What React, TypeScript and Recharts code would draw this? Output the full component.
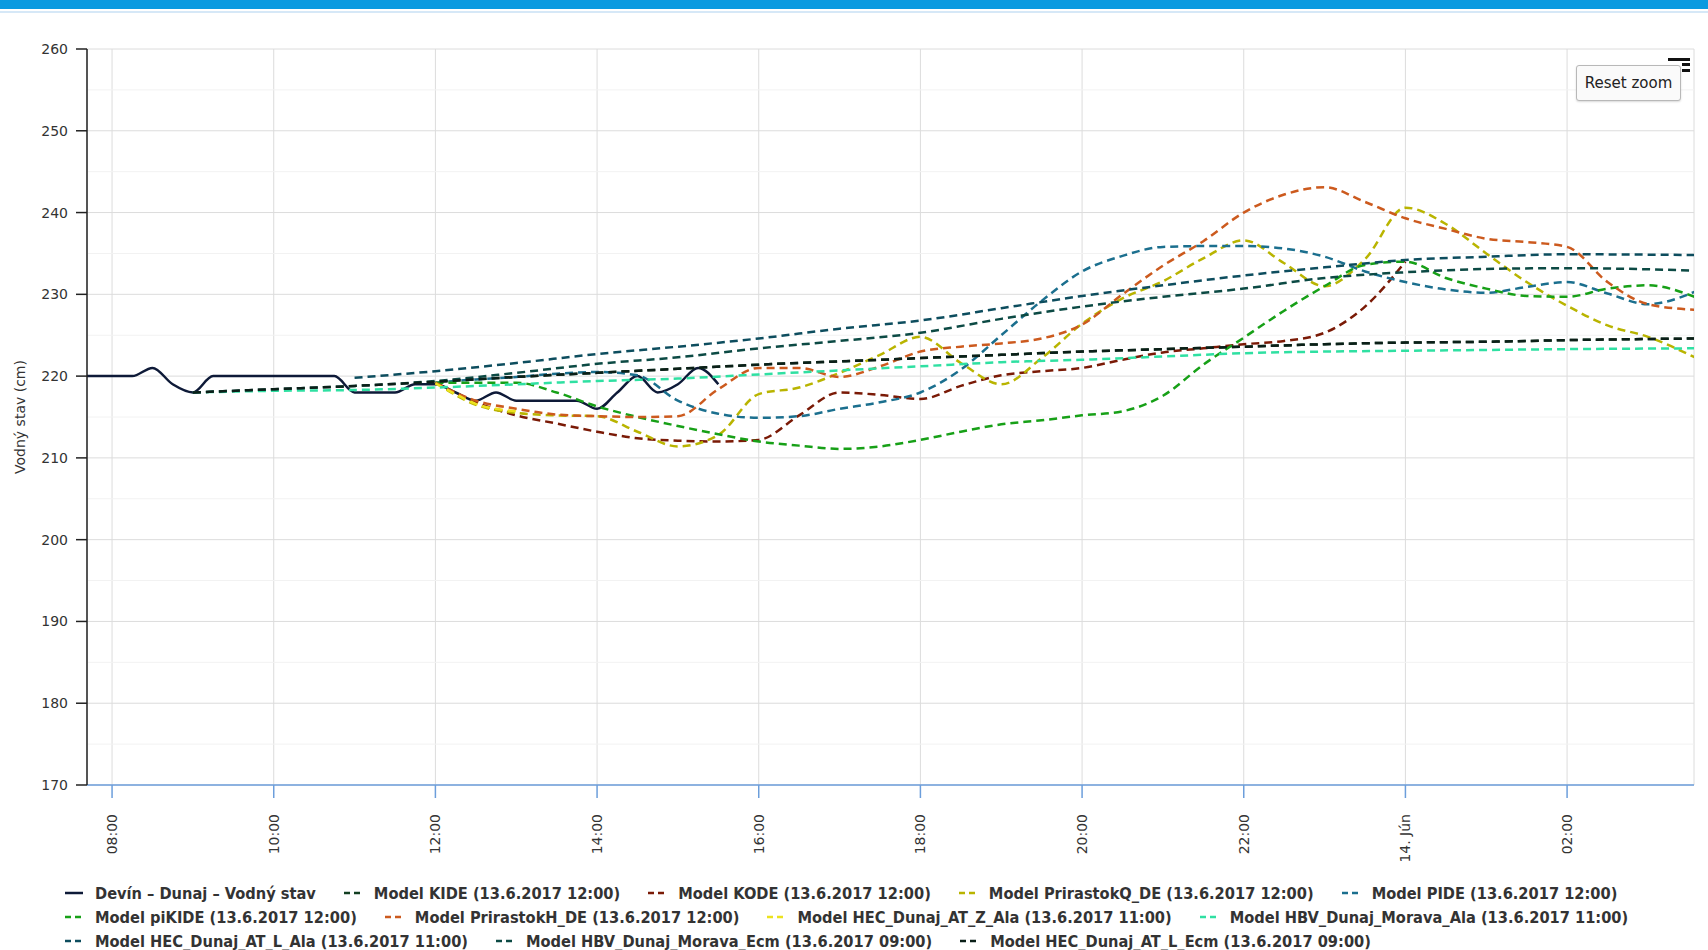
import React from 'react';
import { LineChart, Line, XAxis, YAxis, CartesianGrid, ReferenceLine } from 'recharts';

type Pt = [number, number]; // [hours since 13.6. 00:00, cm]

const xTicks = [8, 10, 12, 14, 16, 18, 20, 22, 24, 26];
const xTickLabels = ['08:00', '10:00', '12:00', '14:00', '16:00', '18:00', '20:00', '22:00', '14. Jún', '02:00'];
const yTicks = [170, 180, 190, 200, 210, 220, 230, 240, 250, 260];
const yMinor = [175, 185, 195, 205, 215, 225, 235, 245, 255];

const devin: Pt[] = [
  [7.5, 220], [7.75, 220], [8, 220], [8.25, 220], [8.5, 221], [8.75, 219], [9, 218], [9.25, 220],
  [9.5, 220], [9.75, 220], [10, 220], [10.25, 220], [10.5, 220], [10.75, 220], [11, 218], [11.25, 218],
  [11.5, 218], [11.75, 219], [12, 219], [12.25, 218], [12.5, 217], [12.75, 218], [13, 217], [13.25, 217],
  [13.5, 217], [13.75, 217], [14, 216], [14.25, 218], [14.5, 220], [14.75, 218], [15, 219], [15.25, 221], [15.5, 219],
];
const kide: Pt[] = [
  [12, 219.3], [13, 219.9], [14, 220.4], [15, 220.9], [16, 221.4], [17, 221.8], [18, 222.2], [19, 222.6],
  [20, 223.0], [21, 223.3], [22, 223.6], [23, 223.9], [24, 224.1], [25, 224.2], [26, 224.4], [27.6, 224.6],
];
const kode: Pt[] = [
  [12, 219.2], [12.5, 216.8], [13, 215.2], [13.5, 214.2], [14, 213.2], [14.5, 212.4], [15, 212.1], [15.5, 212.0],
  [16, 212.2], [16.5, 215.2], [17, 218.0], [17.5, 217.7], [18, 217.2], [18.5, 218.8], [19, 220.1], [19.5, 220.6],
  [20, 221.0], [20.5, 222.0], [21, 222.9], [21.5, 223.4], [22, 223.9], [22.5, 224.3], [23, 225.3], [23.5, 228.5], [24, 234.0],
];
const prirastokQ: Pt[] = [
  [12, 219.2], [12.5, 216.5], [13, 215.5], [13.5, 215.2], [14, 215.1], [14.5, 213.2], [15, 211.4], [15.5, 212.8],
  [16, 217.8], [16.5, 218.6], [17, 220.4], [17.5, 222.6], [18, 224.8], [18.5, 221.6], [19, 219.0], [19.5, 222.2],
  [20, 226.4], [20.5, 229.5], [21, 231.6], [21.5, 234.4], [22, 236.6], [22.5, 233.8], [23, 231.0], [23.5, 234.3],
  [24, 240.6], [24.5, 238.6], [25, 235.0], [25.5, 231.5], [26, 228.6], [26.5, 226.2], [27, 224.8], [27.6, 222.2],
];
const pide: Pt[] = [
  [12, 219.2], [12.5, 219.6], [13, 219.9], [13.5, 220.3], [14, 220.5], [14.5, 220.1], [15, 217.0], [15.5, 215.4],
  [16, 214.9], [16.5, 215.1], [17, 216.0], [17.5, 216.8], [18, 218.0], [18.5, 220.8], [19, 225.0], [19.5, 229.2],
  [20, 232.8], [20.5, 234.7], [21, 235.8], [21.5, 235.9], [22, 235.9], [22.5, 235.6], [23, 234.6], [23.5, 232.8],
  [24, 231.5], [24.5, 230.6], [25, 230.2], [25.5, 230.9], [26, 231.5], [26.5, 230.1], [27, 228.8], [27.6, 230.4],
];
const piKide: Pt[] = [
  [12, 219.2], [12.5, 219.2], [13, 219.2], [13.5, 218.0], [14, 216.3], [14.5, 215.0], [15, 213.9], [15.5, 212.9],
  [16, 212.0], [16.5, 211.5], [17, 211.1], [17.5, 211.4], [18, 212.2], [18.5, 213.2], [19, 214.1], [19.5, 214.6],
  [20, 215.2], [20.5, 215.7], [21, 217.6], [21.5, 221.4], [22, 224.7], [22.5, 228.0], [23, 231.0], [23.5, 233.6],
  [24, 234.0], [24.5, 232.0], [25, 230.7], [25.5, 229.8], [26, 229.7], [26.5, 230.7], [27, 231.1], [27.6, 229.6],
];
const prirastokH: Pt[] = [
  [12, 219.2], [12.5, 217.0], [13, 216.0], [13.5, 215.3], [14, 215.1], [14.5, 215.0], [15, 215.1], [15.5, 218.4],
  [16, 221.0], [16.5, 221.0], [17, 219.9], [17.5, 221.2], [18, 223.0], [18.5, 223.6], [19, 224.0], [19.5, 224.6],
  [20, 226.3], [20.5, 230.0], [21, 233.5], [21.5, 236.5], [22, 240.0], [22.5, 242.2], [23, 243.1], [23.5, 241.3],
  [24, 239.3], [24.5, 238.0], [25, 236.8], [25.5, 236.4], [26, 235.8], [26.5, 231.5], [27, 228.8], [27.6, 228.1],
];
const hecZAla: Pt[] = [[12, 219.1], [12.25, 217.8], [12.5, 216.6], [12.75, 216.0], [13, 215.7]];
const hbvAla: Pt[] = [
  [9, 218], [10, 218.2], [11, 218.3], [12, 218.6], [13, 219.0], [14, 219.4], [15, 219.7], [16, 220.2],
  [17, 220.7], [18, 221.2], [19, 221.7], [20, 222.0], [21, 222.4], [22, 222.8], [23, 223.0], [24, 223.1],
  [25, 223.2], [26, 223.3], [27.6, 223.4],
];
const hecLAla: Pt[] = [
  [11, 219.8], [12, 220.6], [13, 221.6], [14, 222.7], [15, 223.6], [16, 224.6], [17, 225.8], [18, 226.8],
  [19, 228.3], [20, 229.8], [21, 231.1], [22, 232.3], [23, 233.3], [24, 234.2], [25, 234.6], [26, 234.9], [27.6, 234.8],
];
const hbvEcm: Pt[] = [
  [9, 218], [10, 218.4], [11, 218.8], [12, 219.4], [13, 220.4], [14, 221.5], [15, 222.3], [16, 223.4],
  [17, 224.3], [18, 225.3], [19, 227.0], [20, 228.5], [21, 229.7], [22, 230.7], [23, 232.0], [24, 232.7],
  [25, 233.1], [26, 233.2], [27.6, 232.9],
];
const hecLEcm: Pt[] = [
  [9, 218], [10, 218.4], [11, 218.8], [12, 219.3], [13, 219.9], [14, 220.4], [15, 220.9], [16, 221.4],
  [17, 221.8], [18, 222.2], [19, 222.6], [20, 223.0], [21, 223.3], [22, 223.6], [23, 223.9], [24, 224.1],
  [25, 224.2], [26, 224.4], [27.6, 224.6],
];

const seriesNames = [
  'Devín – Dunaj – Vodný stav',
  'Model KIDE (13.6.2017 12:00)',
  'Model KODE (13.6.2017 12:00)',
  'Model PrirastokQ_DE (13.6.2017 12:00)',
  'Model PIDE (13.6.2017 12:00)',
  'Model piKIDE (13.6.2017 12:00)',
  'Model PrirastokH_DE (13.6.2017 12:00)',
  'Model HEC_Dunaj_AT_Z_Ala (13.6.2017 11:00)',
  'Model HBV_Dunaj_Morava_Ala (13.6.2017 11:00)',
  'Model HEC_Dunaj_AT_L_Ala (13.6.2017 11:00)',
  'Model HBV_Dunaj_Morava_Ecm (13.6.2017 09:00)',
  'Model HEC_Dunaj_AT_L_Ecm (13.6.2017 09:00)',
];
const seriesData = [devin, kide, kode, prirastokQ, pide, piKide, prirastokH, hecZAla, hbvAla, hecLAla, hbvEcm, hecLEcm];
const legendRows = [5, 4, 3];

const colors = [
  '#0e1a38', '#123f22', '#7a1a06', '#b9b400', '#1b6f8e', '#17a017',
  '#cc5a1e', '#ece21e', '#2fe0a2', '#0d4d5e', '#0c4a44', '#0b1f18',
];
// KIDE runs under HEC_L_Ecm from 12:00; shift its dashes so the two patterns line up
const dashOffsets = [0, 8.8, 0, 0, 0, 0, 0, 0, 0, 0, 0, 0];

const font = "'DejaVu Sans', sans-serif";
const legendFont = "'DejaVu Sans Condensed', 'Liberation Sans Narrow', 'DejaVu Sans', sans-serif";

const XTick = (props: any) => {
  const { x, y, payload } = props;
  const label = xTickLabels[xTicks.indexOf(payload.value)];
  const ty = y + 14;
  return (
    <text x={x} y={ty} transform={`rotate(-90 ${x} ${ty})`} textAnchor="end" dominantBaseline="central"
      fontSize={14} fontFamily={font} fill="#333">
      {label}
    </text>
  );
};

function LegendBlock() {
  let start = 0;
  return (
    <div style={{ position: 'absolute', left: 65, top: 881, fontFamily: legendFont, fontWeight: 'bold', fontSize: 16.25, color: '#333' }}>
      {legendRows.map((n, r) => {
        const idx = seriesNames.slice(start, start + n).map((_, i) => start + i);
        start += n;
        return (
          <div key={r} style={{ display: 'flex', height: 24, alignItems: 'center', whiteSpace: 'nowrap' }}>
            {idx.map((i) => (
              <div key={i} style={{ display: 'flex', alignItems: 'center', marginRight: 28 }}>
                <svg width={18} height={6} style={{ marginRight: 12 }}>
                  <line x1={0} y1={3} x2={18} y2={3} stroke={colors[i]} strokeWidth={2.5}
                    strokeDasharray={i === 0 ? undefined : '6 4'} />
                </svg>
                <span>{seriesNames[i]}</span>
              </div>
            ))}
          </div>
        );
      })}
    </div>
  );
}

export default function App() {
  return (
    <div style={{ position: 'absolute', left: 0, top: 0, width: 1708, height: 950, background: '#fff', overflow: 'hidden' }}>
      <div style={{ position: 'absolute', left: 0, top: 0, width: 1708, height: 9, background: '#0a9ae0' }} />
      <div style={{ position: 'absolute', left: 0, top: 11, width: 1708, height: 2, background: '#d6e8f7' }} />
      <LineChart width={1708} height={950} margin={{ top: 49, right: 14, left: 0, bottom: 85 }}>
        {yMinor.map((v) => (
          <ReferenceLine key={v} y={v} stroke="#f2f2f2" strokeWidth={1} />
        ))}
        <CartesianGrid stroke="#dcdcdc" strokeWidth={1} />
        <XAxis
          type="number"
          dataKey="t"
          domain={[7.69, 27.57]}
          ticks={xTicks}
          allowDataOverflow
          height={80}
          stroke="#6c9edb"
          strokeWidth={1.5}
          tickSize={13}
          tickLine={{ stroke: '#6c9edb', strokeWidth: 1.5 }}
          tick={<XTick />}
          interval={0}
        />
        <YAxis
          type="number"
          domain={[170, 260]}
          ticks={yTicks}
          width={87}
          stroke="#222"
          strokeWidth={1.5}
          tickSize={11}
          tickMargin={8}
          tick={{ fontSize: 14, fontFamily: font, fill: '#333' }}
          label={{ value: 'Vodný stav (cm)', angle: -90, position: 'insideLeft', dx: 15, dy: 0, style: { fontSize: 14, fontFamily: font, fill: '#333', textAnchor: 'middle' } }}
          interval={0}
        />
        {seriesData.map((d, i) => (
          <Line
            key={seriesNames[i]}
            data={d.map(([t, v]) => ({ t, v }))}
            dataKey="v"
            name={seriesNames[i]}
            type="monotone"
            stroke={colors[i]}
            strokeWidth={2.5}
            strokeDasharray={i === 0 ? undefined : '8 5'}
            strokeDashoffset={dashOffsets[i]}
            dot={false}
            activeDot={false}
            isAnimationActive={false}
          />
        ))}
      </LineChart>
      <LegendBlock />
      <div style={{ position: 'absolute', left: 1668, top: 58, width: 22, height: 3, background: '#111' }} />
      <div style={{ position: 'absolute', left: 1682, top: 63, width: 8, height: 3, background: '#111' }} />
      <div style={{ position: 'absolute', left: 1682, top: 69, width: 8, height: 3, background: '#111' }} />
      <div style={{
        position: 'absolute', left: 1576, top: 65, width: 105, height: 36, boxSizing: 'border-box',
        border: '1px solid #b8b8b8', borderRadius: 3, background: '#fafafa', boxShadow: '0 1px 2px rgba(0,0,0,0.15)',
        fontFamily: font, fontSize: 15, color: '#222', display: 'flex', alignItems: 'center', justifyContent: 'center',
      }}>
        Reset zoom
      </div>
    </div>
  );
}
